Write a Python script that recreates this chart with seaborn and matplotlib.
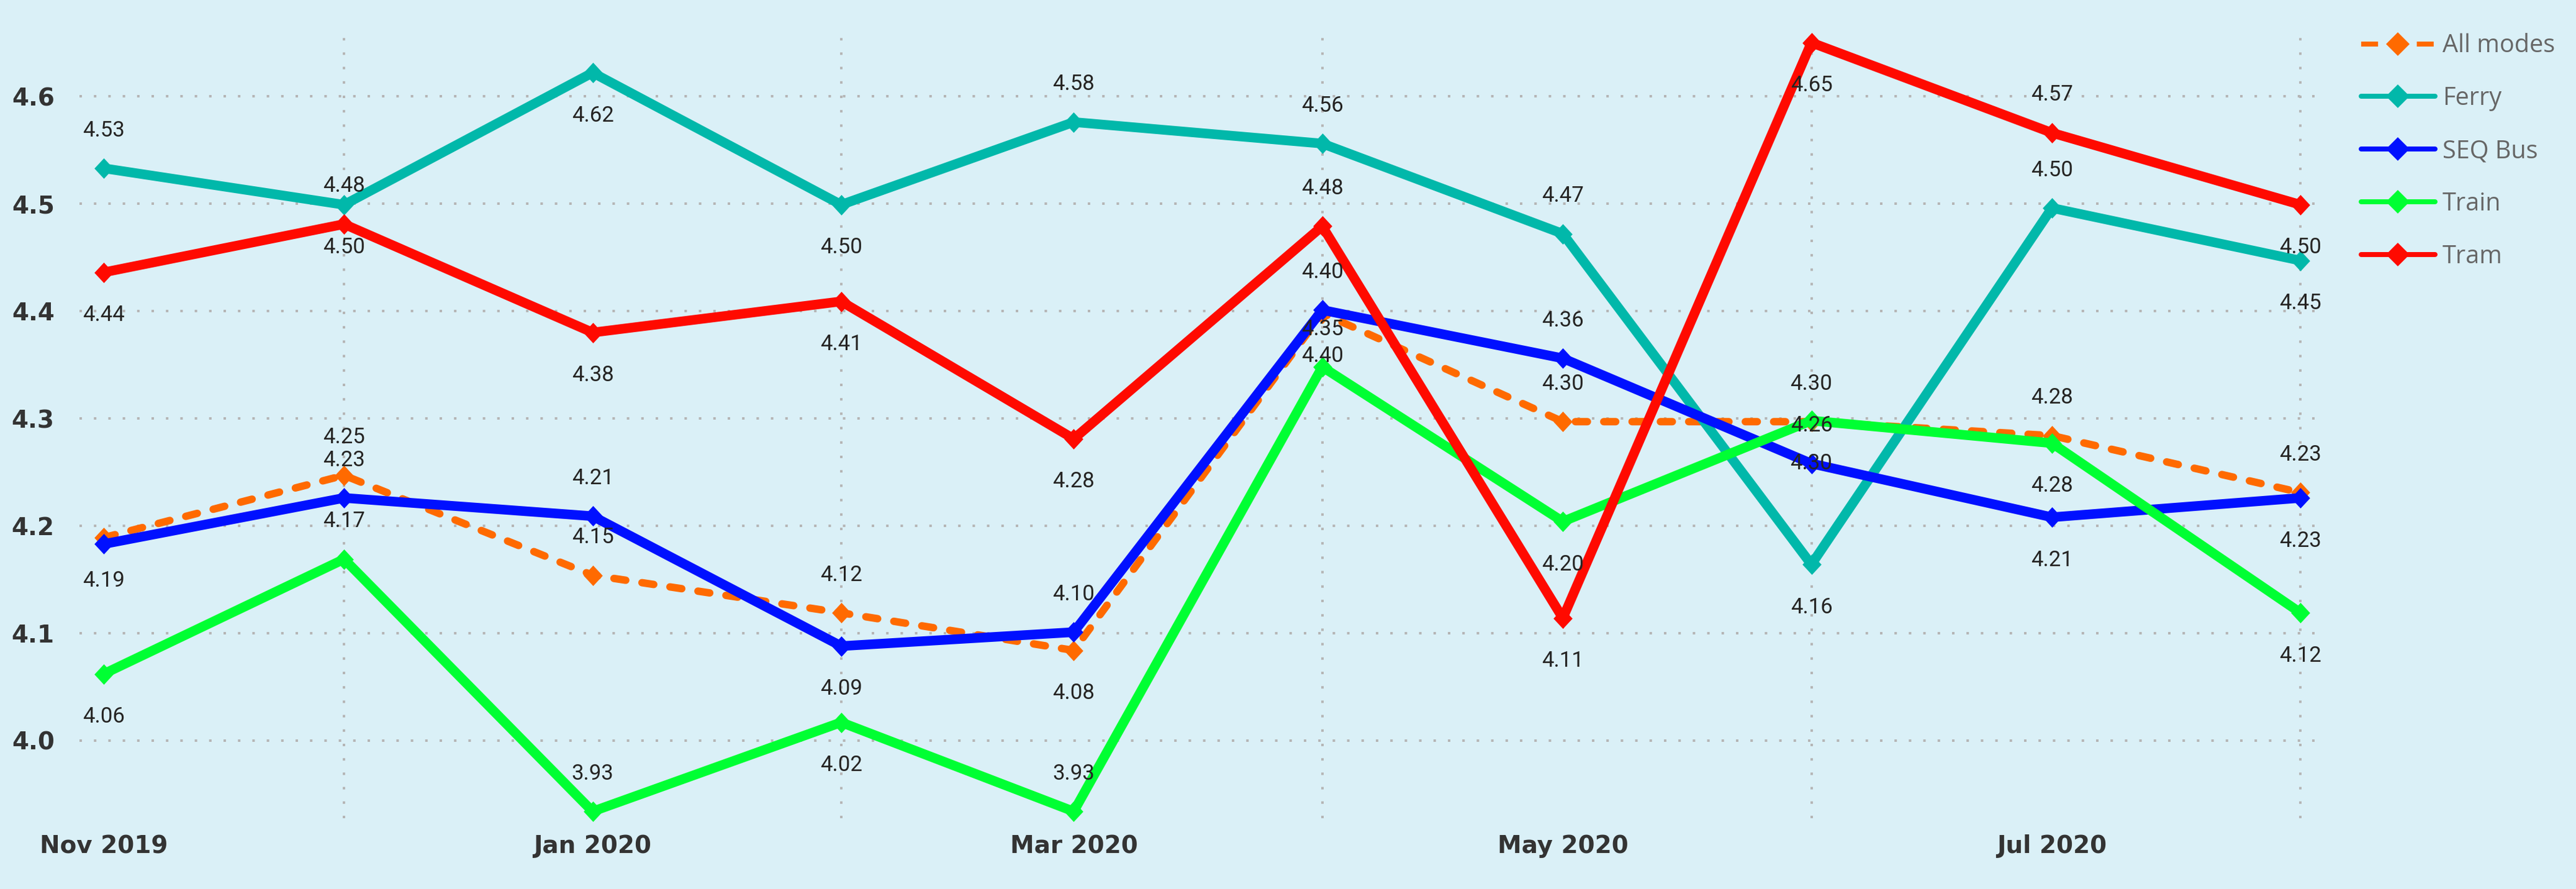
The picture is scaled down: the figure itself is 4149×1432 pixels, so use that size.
import matplotlib
matplotlib.use('Agg')
import matplotlib.pyplot as plt
import matplotlib.dates as mdates
from matplotlib.lines import Line2D
import pandas as pd
import seaborn as sns

# ---------------- data ----------------
months = ['2019-11-01', '2019-12-01', '2020-01-01', '2020-02-01', '2020-03-01',
          '2020-04-01', '2020-05-01', '2020-06-01', '2020-07-01', '2020-08-01']
all_modes = [4.189, 4.247, 4.154, 4.119, 4.084, 4.398, 4.297, 4.297, 4.284, 4.231]
ferry     = [4.533, 4.499, 4.622, 4.499, 4.576, 4.556, 4.472, 4.164, 4.496, 4.447]
seq_bus   = [4.183, 4.226, 4.209, 4.088, 4.101, 4.401, 4.356, 4.258, 4.208, 4.226]
train     = [4.062, 4.169, 3.934, 4.017, 3.934, 4.348, 4.204, 4.298, 4.277, 4.119]
tram      = [4.436, 4.481, 4.380, 4.409, 4.281, 4.479, 4.114, 4.650, 4.566, 4.499]
series_names = ['All modes', 'Ferry', 'SEQ Bus', 'Train', 'Tram']
y_ticks = [4.0, 4.1, 4.2, 4.3, 4.4, 4.5, 4.6]

# data-label placement (a = above, b = below, '' = hidden)
label_pos = {
    'All modes': ['b', 'a', 'a', 'a', 'b', 'b', 'a', 'a', 'a', 'a'],
    'Ferry':     ['a', 'b', 'b', 'b', 'a', 'a', 'a', 'b', 'a', 'b'],
    'SEQ Bus':   ['', 'a', 'a', 'b', 'a', 'a', 'a', 'a', 'b', 'b'],
    'Train':     ['b', 'a', 'a', 'b', 'a', 'a', 'b', 'b', 'b', 'b'],
    'Tram':      ['b', 'a', 'b', 'b', 'b', 'a', 'b', 'b', 'a', 'b'],
}

dates = pd.to_datetime(months)
values = {'All modes': all_modes, 'Ferry': ferry, 'SEQ Bus': seq_bus,
          'Train': train, 'Tram': tram}
df = pd.concat([pd.DataFrame({'Month': dates, 'Score': values[n], 'Mode': n})
                for n in series_names], ignore_index=True)

colors = {'All modes': '#FF6A00', 'Ferry': '#01B8AA', 'SEQ Bus': '#0010FF',
          'Train': '#00FF33', 'Tram': '#FF0A00'}

# ---------------- style ----------------
BG = '#DAF0F7'
sns.set_theme(style='white')
plt.rcParams['font.family'] = ['DejaVu Sans']

W, H, DPI = 4149, 1432, 100
PT = 72.0 / DPI  # points per pixel
fig = plt.figure(figsize=(W / DPI, H / DPI), dpi=DPI, facecolor=BG)
ax = fig.add_axes([128 / W, 1 - 1318 / H, (3735 - 128) / W, (1318 - 60) / H])
ax.set_facecolor(BG)

diamond = [(0, 1), (0.93, 0), (0, -1), (-0.93, 0), (0, 1)]

for z, name in enumerate(series_names):
    sub = df[df['Mode'] == name]
    kw = dict(color=colors[name], marker=diamond, markersize=33 * PT,
              markeredgecolor=colors[name], markerfacecolor=colors[name],
              markeredgewidth=0, clip_on=False, zorder=3 + z)
    if name == 'All modes':
        kw.update(linewidth=12 * PT, linestyle=(0, (1.6, 2.2)),
                  dash_capstyle='round')
    else:
        kw.update(linewidth=15.5 * PT, solid_joinstyle='miter')
    sns.lineplot(data=sub, x='Month', y='Score', ax=ax, legend=False,
                 estimator=None, sort=True, **kw)

# data labels
label_font = ['Roboto', 'DejaVu Sans']
for name in series_names:
    for d, v, p in zip(dates, values[name], label_pos[name]):
        if not p:
            continue
        off = 61 * PT if p == 'a' else -69 * PT
        ax.annotate(f'{v:.2f}', xy=(d, v), xytext=(0, off),
                    textcoords='offset points', ha='center', va='center',
                    fontsize=25, family=label_font, color='#252423',
                    zorder=20, annotation_clip=False)

# axes
ax.set_xlim(dates[0] - pd.Timedelta(days=3), dates[-1] + pd.Timedelta(days=2.3))
ax.set_ylim(3.9277, 4.655)
ax.set_yticks(y_ticks)
ax.set_yticklabels([f'{t:.1f}' for t in y_ticks])
ax.xaxis.set_major_locator(mdates.MonthLocator(bymonth=(1, 3, 5, 7, 9, 11)))
ax.xaxis.set_major_formatter(mdates.DateFormatter('%b %Y'))
ax.xaxis.set_minor_locator(mdates.MonthLocator())
ax.set_xlabel('')
ax.set_ylabel('')
for s in ax.spines.values():
    s.set_visible(False)

grid_kw = dict(color='#B5B5B5', linewidth=4 * PT, linestyle=(0, (1, 4.8)))
ax.grid(False)
ax.grid(True, which='minor', axis='x', **grid_kw)
ax.grid(True, which='major', axis='y', **grid_kw)
ax.set_axisbelow(True)

ax.tick_params(axis='both', which='both', length=0)
ax.tick_params(axis='x', pad=19, labelsize=28, labelcolor='#333333')
ax.tick_params(axis='y', pad=29, labelsize=28, labelcolor='#333333')
for lab in ax.get_xticklabels() + ax.get_yticklabels():
    lab.set_fontweight('bold')
    lab.set_family('DejaVu Sans')

# legend
handles = []
for name in series_names:
    h = Line2D([], [], color=colors[name], linewidth=8 * PT, marker='D',
               markersize=19.5, markeredgewidth=0,
               linestyle=(0, (3.4, 2.2)) if name == 'All modes' else '-')
    handles.append(h)
fig.legend(handles, series_names, loc='upper left',
           bbox_to_anchor=(3803 / W, 1 - 54 / H), frameon=False,
           prop={'family': ['Open Sans', 'DejaVu Sans'], 'size': 28.5},
           labelcolor='#666666', handlelength=3.0, handletextpad=0.3,
           labelspacing=1.12, borderpad=0, borderaxespad=0)

fig.savefig('out.png', dpi=DPI, facecolor=BG)
